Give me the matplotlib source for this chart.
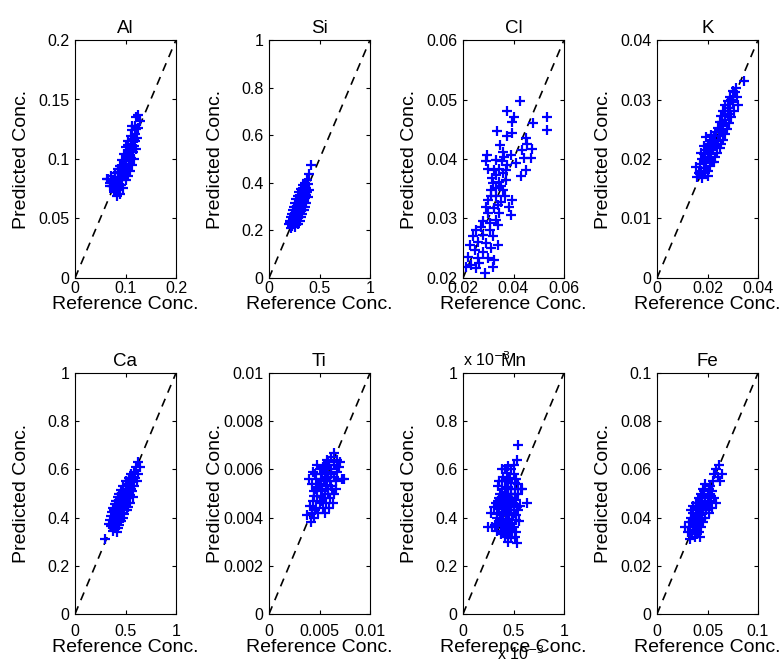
import matplotlib
matplotlib.use("Agg")
import matplotlib.pyplot as plt

plt.rcParams['font.family'] = ['Liberation Sans', 'DejaVu Sans']

# (reference, predicted) pairs
al = [(0.125, 0.137), (0.120, 0.135), (0.128, 0.132), (0.118, 0.128), (0.124, 0.126), (0.113, 0.124),
      (0.119, 0.121), (0.110, 0.119), (0.116, 0.117), (0.122, 0.118), (0.105, 0.115), (0.111, 0.113),
      (0.117, 0.111), (0.100, 0.110), (0.108, 0.108), (0.114, 0.106), (0.120, 0.108), (0.097, 0.104),
      (0.104, 0.103), (0.110, 0.101), (0.116, 0.100), (0.093, 0.099), (0.100, 0.098), (0.106, 0.096),
      (0.112, 0.095), (0.089, 0.094), (0.096, 0.093), (0.102, 0.092), (0.108, 0.090), (0.085, 0.089),
      (0.092, 0.088), (0.098, 0.087), (0.104, 0.086), (0.080, 0.085), (0.087, 0.084), (0.094, 0.083),
      (0.100, 0.082), (0.075, 0.082), (0.070, 0.080), (0.078, 0.079), (0.085, 0.078), (0.092, 0.078),
      (0.072, 0.086), (0.081, 0.075), (0.088, 0.074), (0.095, 0.076), (0.077, 0.072), (0.090, 0.071),
      (0.083, 0.069), (0.066, 0.083), (0.069, 0.077), (0.098, 0.093), (0.106, 0.105), (0.113, 0.128),
      (0.104, 0.112), (0.063, 0.083), (0.090, 0.082), (0.083, 0.080), (0.095, 0.088), (0.101, 0.095),
      (0.107, 0.100), (0.112, 0.110), (0.118, 0.115), (0.121, 0.125), (0.079, 0.088), (0.086, 0.092),
      (0.074, 0.077)]

si = [(0.42, 0.475), (0.40, 0.435), (0.38, 0.41), (0.36, 0.40), (0.39, 0.395), (0.34, 0.39), (0.37, 0.38),
      (0.32, 0.375), (0.35, 0.37), (0.40, 0.37), (0.30, 0.36), (0.33, 0.355), (0.37, 0.35), (0.29, 0.345),
      (0.32, 0.34), (0.36, 0.335), (0.39, 0.34), (0.27, 0.33), (0.31, 0.325), (0.34, 0.32), (0.37, 0.315),
      (0.26, 0.315), (0.29, 0.31), (0.33, 0.305), (0.36, 0.30), (0.25, 0.30), (0.28, 0.295), (0.32, 0.29),
      (0.35, 0.285), (0.24, 0.285), (0.27, 0.28), (0.30, 0.275), (0.33, 0.27), (0.23, 0.27), (0.26, 0.265),
      (0.29, 0.26), (0.32, 0.255), (0.22, 0.255), (0.25, 0.25), (0.28, 0.245), (0.31, 0.24), (0.21, 0.24),
      (0.24, 0.235), (0.27, 0.23), (0.20, 0.225), (0.23, 0.22), (0.26, 0.215), (0.29, 0.225), (0.22, 0.21),
      (0.35, 0.355), (0.38, 0.36), (0.30, 0.30), (0.27, 0.27), (0.34, 0.34), (0.31, 0.31), (0.28, 0.26),
      (0.25, 0.26), (0.35, 0.33), (0.24, 0.25), (0.21, 0.23), (0.33, 0.37)]

cl = [(0.0425, 0.0498), (0.0376, 0.0480), (0.0403, 0.0471), (0.0396, 0.0463), (0.0533, 0.0470),
      (0.0533, 0.0449), (0.0477, 0.0460), (0.0335, 0.0447), (0.0393, 0.0444), (0.0376, 0.0438),
      (0.0448, 0.0435), (0.0455, 0.0426), (0.0346, 0.0424), (0.0435, 0.0415), (0.0472, 0.0416),
      (0.0294, 0.0407), (0.0357, 0.0412), (0.0442, 0.0401), (0.0468, 0.0401), (0.0292, 0.0396),
      (0.0331, 0.0398), (0.0363, 0.0404), (0.0390, 0.0407), (0.0298, 0.0384), (0.0344, 0.0384),
      (0.0376, 0.0390), (0.0409, 0.0393), (0.0448, 0.0382), (0.0429, 0.0371), (0.0331, 0.0373),
      (0.0357, 0.0376), (0.0318, 0.0359), (0.0344, 0.0362), (0.0370, 0.0365), (0.0311, 0.0348),
      (0.0331, 0.0351), (0.0357, 0.0348), (0.0298, 0.0331), (0.0331, 0.0337), (0.0393, 0.0331),
      (0.0350, 0.0328), (0.0383, 0.0320), (0.0292, 0.0320), (0.0324, 0.0317), (0.0390, 0.0306),
      (0.0344, 0.0309), (0.0298, 0.0309), (0.0331, 0.0298), (0.0337, 0.0289), (0.0272, 0.0286),
      (0.0252, 0.0281), (0.0305, 0.0281), (0.0278, 0.0272), (0.0239, 0.0270), (0.0318, 0.0270),
      (0.0259, 0.0261), (0.0226, 0.0256), (0.0292, 0.0258), (0.0337, 0.0256), (0.0246, 0.0247),
      (0.0278, 0.0244), (0.0311, 0.0250), (0.0220, 0.0236), (0.0259, 0.0233), (0.0298, 0.0233),
      (0.0324, 0.0230), (0.0233, 0.0222), (0.0265, 0.0225), (0.0213, 0.0219), (0.0318, 0.0219),
      (0.0252, 0.0216), (0.0289, 0.0208), (0.0315, 0.0368), (0.0350, 0.0354), (0.0367, 0.0337),
      (0.0278, 0.0295), (0.0354, 0.0396), (0.0324, 0.0382), (0.0311, 0.0337), (0.0370, 0.0382),
      (0.0337, 0.0323), (0.0305, 0.0292)]

k = [(0.0345, 0.0331), (0.0312, 0.0320), (0.0300, 0.0315), (0.0315, 0.0305), (0.0290, 0.0305),
     (0.0300, 0.0295), (0.0280, 0.0298), (0.0320, 0.0290), (0.0270, 0.0290), (0.0290, 0.0285),
     (0.0305, 0.0280), (0.0262, 0.0280), (0.0280, 0.0275), (0.0295, 0.0270), (0.0255, 0.0272),
     (0.0270, 0.0265), (0.0285, 0.0260), (0.0248, 0.0262), (0.0262, 0.0255), (0.0278, 0.0250),
     (0.0240, 0.0252), (0.0255, 0.0245), (0.0270, 0.0242), (0.0232, 0.0245), (0.0248, 0.0238),
     (0.0262, 0.0232), (0.0225, 0.0238), (0.0240, 0.0230), (0.0255, 0.0225), (0.0212, 0.0240),
     (0.0195, 0.0237), (0.0218, 0.0228), (0.0232, 0.0222), (0.0248, 0.0218), (0.0205, 0.0222),
     (0.0220, 0.0215), (0.0238, 0.0210), (0.0195, 0.0215), (0.0210, 0.0208), (0.0228, 0.0203),
     (0.0185, 0.0208), (0.0200, 0.0200), (0.0218, 0.0195), (0.0178, 0.0200), (0.0192, 0.0193),
     (0.0210, 0.0188), (0.0170, 0.0192), (0.0185, 0.0185), (0.0202, 0.0180), (0.0155, 0.0187),
     (0.0175, 0.0180), (0.0190, 0.0176), (0.0160, 0.0170), (0.0180, 0.0168), (0.0200, 0.0172),
     (0.0168, 0.0176), (0.0225, 0.0225), (0.0212, 0.0218), (0.0202, 0.0210), (0.0190, 0.0203),
     (0.0230, 0.0232), (0.0245, 0.0248), (0.0258, 0.0262), (0.0268, 0.0272), (0.0280, 0.0285),
     (0.0295, 0.0300), (0.0310, 0.0312), (0.0208, 0.0230), (0.0200, 0.0225), (0.0188, 0.0222),
     (0.0175, 0.0210), (0.0215, 0.0198), (0.0225, 0.0195), (0.0185, 0.0195), (0.0170, 0.0175),
     (0.0195, 0.0185)]

ca = [(0.30, 0.31), (0.62, 0.63), (0.64, 0.61), (0.60, 0.61), (0.58, 0.59), (0.62, 0.58), (0.55, 0.58),
      (0.59, 0.565), (0.53, 0.565), (0.56, 0.55), (0.61, 0.55), (0.50, 0.55), (0.54, 0.535), (0.58, 0.53),
      (0.48, 0.53), (0.52, 0.52), (0.56, 0.51), (0.46, 0.515), (0.50, 0.505), (0.54, 0.495), (0.44, 0.50),
      (0.48, 0.49), (0.52, 0.48), (0.57, 0.485), (0.43, 0.485), (0.46, 0.475), (0.50, 0.465), (0.54, 0.46),
      (0.41, 0.47), (0.44, 0.46), (0.48, 0.45), (0.52, 0.445), (0.40, 0.455), (0.43, 0.445), (0.47, 0.435),
      (0.51, 0.43), (0.38, 0.44), (0.42, 0.43), (0.45, 0.42), (0.49, 0.415), (0.37, 0.425), (0.40, 0.415),
      (0.44, 0.405), (0.48, 0.40), (0.36, 0.405), (0.39, 0.395), (0.43, 0.39), (0.46, 0.385), (0.35, 0.39),
      (0.38, 0.38), (0.41, 0.375), (0.44, 0.37), (0.36, 0.365), (0.40, 0.36), (0.43, 0.355), (0.38, 0.345),
      (0.42, 0.34), (0.55, 0.52), (0.51, 0.54), (0.46, 0.50), (0.52, 0.50), (0.49, 0.475), (0.45, 0.45),
      (0.42, 0.445), (0.46, 0.42), (0.39, 0.43), (0.41, 0.39), (0.45, 0.395), (0.39, 0.37), (0.53, 0.55),
      (0.57, 0.56), (0.50, 0.52), (0.47, 0.46), (0.34, 0.375)]

ti = [(0.0064, 0.0067), (0.0061, 0.0065), (0.0067, 0.0064), (0.0058, 0.0063), (0.0064, 0.0062),
      (0.0070, 0.0063), (0.0055, 0.0061), (0.0061, 0.0060), (0.0067, 0.0059), (0.0050, 0.0060),
      (0.0044, 0.0059), (0.0052, 0.0058), (0.0058, 0.0057), (0.0064, 0.0057), (0.0040, 0.0056),
      (0.0047, 0.0056), (0.0054, 0.0055), (0.0060, 0.0055), (0.0066, 0.0055), (0.0072, 0.0056),
      (0.0043, 0.0054), (0.0050, 0.0053), (0.0056, 0.0053), (0.0062, 0.0052), (0.0045, 0.0051),
      (0.0052, 0.0051), (0.0058, 0.0050), (0.0064, 0.0050), (0.0048, 0.0049), (0.0054, 0.0048),
      (0.0060, 0.0048), (0.0044, 0.0047), (0.0050, 0.0046), (0.0056, 0.0046), (0.0063, 0.0046),
      (0.0047, 0.0044), (0.0053, 0.0044), (0.0059, 0.0044), (0.0043, 0.0042), (0.0049, 0.0042),
      (0.0055, 0.0042), (0.0038, 0.0041), (0.0045, 0.0040), (0.0042, 0.0038), (0.0057, 0.0064),
      (0.0048, 0.0062), (0.0066, 0.0052), (0.0051, 0.0056), (0.0057, 0.0059), (0.0046, 0.0058),
      (0.0053, 0.0061), (0.0059, 0.0062), (0.0055, 0.0057), (0.0049, 0.0054), (0.0061, 0.0058),
      (0.0047, 0.0052), (0.0057, 0.0055), (0.0051, 0.0049), (0.0058, 0.0052), (0.0045, 0.0049),
      (0.0055, 0.0050), (0.0061, 0.0053), (0.0052, 0.0047), (0.0046, 0.0043), (0.0041, 0.0045),
      (0.0069, 0.0061), (0.0074, 0.0056)]

# Mn in units of 1e-3
mn = [(0.54, 0.70), (0.53, 0.64), (0.50, 0.62), (0.45, 0.615), (0.42, 0.60), (0.48, 0.60), (0.44, 0.585),
      (0.50, 0.58), (0.40, 0.57), (0.46, 0.565), (0.52, 0.56), (0.36, 0.55), (0.42, 0.55), (0.48, 0.545),
      (0.54, 0.54), (0.35, 0.53), (0.39, 0.52), (0.45, 0.525), (0.51, 0.52), (0.57, 0.52), (0.37, 0.50),
      (0.42, 0.50), (0.48, 0.50), (0.54, 0.50), (0.36, 0.48), (0.40, 0.475), (0.46, 0.48), (0.52, 0.475),
      (0.63, 0.46), (0.33, 0.46), (0.38, 0.455), (0.44, 0.455), (0.50, 0.455), (0.56, 0.45), (0.31, 0.445),
      (0.36, 0.435), (0.42, 0.435), (0.48, 0.43), (0.54, 0.43), (0.28, 0.42), (0.34, 0.415), (0.40, 0.41),
      (0.46, 0.41), (0.52, 0.41), (0.37, 0.39), (0.43, 0.39), (0.49, 0.39), (0.55, 0.385), (0.25, 0.36),
      (0.32, 0.37), (0.38, 0.365), (0.44, 0.365), (0.50, 0.36), (0.34, 0.345), (0.40, 0.34), (0.46, 0.34),
      (0.52, 0.34), (0.42, 0.32), (0.48, 0.315), (0.45, 0.30), (0.53, 0.295), (0.29, 0.36), (0.58, 0.52),
      (0.39, 0.60), (0.39, 0.55), (0.45, 0.55), (0.51, 0.545), (0.43, 0.52), (0.48, 0.52), (0.40, 0.49),
      (0.45, 0.50), (0.51, 0.50), (0.43, 0.475), (0.49, 0.47), (0.35, 0.47), (0.41, 0.45), (0.47, 0.445),
      (0.53, 0.445), (0.39, 0.425), (0.45, 0.42), (0.50, 0.42), (0.34, 0.40), (0.40, 0.395), (0.46, 0.395),
      (0.52, 0.39), (0.35, 0.375), (0.41, 0.37), (0.47, 0.37), (0.43, 0.35), (0.49, 0.345), (0.38, 0.33),
      (0.45, 0.325), (0.51, 0.32), (0.47, 0.56), (0.43, 0.60)]

fe = [(0.061, 0.062), (0.058, 0.060), (0.064, 0.058), (0.060, 0.057), (0.056, 0.058), (0.062, 0.055),
      (0.055, 0.055), (0.052, 0.053), (0.048, 0.054), (0.054, 0.051), (0.046, 0.052), (0.050, 0.050),
      (0.044, 0.050), (0.056, 0.048), (0.048, 0.048), (0.042, 0.048), (0.052, 0.047), (0.045, 0.046),
      (0.039, 0.046), (0.058, 0.046), (0.049, 0.045), (0.054, 0.044), (0.042, 0.044), (0.036, 0.045),
      (0.046, 0.043), (0.051, 0.042), (0.039, 0.042), (0.034, 0.043), (0.043, 0.041), (0.048, 0.040),
      (0.037, 0.040), (0.041, 0.039), (0.046, 0.038), (0.035, 0.038), (0.039, 0.037), (0.044, 0.036),
      (0.033, 0.036), (0.028, 0.036), (0.037, 0.035), (0.042, 0.034), (0.031, 0.034), (0.035, 0.033),
      (0.040, 0.033), (0.033, 0.031), (0.038, 0.032), (0.053, 0.049), (0.047, 0.051), (0.045, 0.049),
      (0.050, 0.046), (0.041, 0.046), (0.047, 0.045), (0.044, 0.043), (0.040, 0.041), (0.045, 0.040),
      (0.036, 0.042), (0.042, 0.038), (0.038, 0.039), (0.034, 0.040), (0.040, 0.036), (0.036, 0.036),
      (0.051, 0.052), (0.049, 0.043), (0.044, 0.047), (0.032, 0.038), (0.043, 0.032)]

elements = ['Al', 'Si', 'Cl', 'K', 'Ca', 'Ti', 'Mn', 'Fe']
points = [al, si, cl, k, ca, ti, mn, fe]
limits = [(0, 0.2), (0, 1), (0.02, 0.06), (0, 0.04), (0, 1), (0, 0.01), (0, 1), (0, 0.1)]
xticks = [[0, 0.1, 0.2], [0, 0.5, 1], [0.02, 0.04, 0.06], [0, 0.02, 0.04],
          [0, 0.5, 1], [0, 0.005, 0.01], [0, 0.5, 1], [0, 0.05, 0.1]]
yticks = [[0, 0.05, 0.1, 0.15, 0.2], [0, 0.2, 0.4, 0.6, 0.8, 1], [0.02, 0.03, 0.04, 0.05, 0.06],
          [0, 0.01, 0.02, 0.03, 0.04], [0, 0.2, 0.4, 0.6, 0.8, 1], [0, 0.002, 0.004, 0.006, 0.008, 0.01],
          [0, 0.2, 0.4, 0.6, 0.8, 1], [0, 0.02, 0.04, 0.06, 0.08, 0.1]]

W, H = 782, 662
fig = plt.figure(figsize=(W / 100, H / 100), dpi=100)

col_left = [75, 269, 463, 657]
row_top = [40, 373]
row_h = [238, 241]
ax_w = 101
xpad = [2.5, 7.5]
xlab_y = [-0.112, -0.137]

for i, name in enumerate(elements):
    r, c = divmod(i, 4)
    ax = fig.add_axes([col_left[c] / W, 1 - (row_top[r] + row_h[r]) / H, ax_w / W, row_h[r] / H])
    ref, pred = zip(*points[i])
    lo, hi = limits[i]
    ax.plot([lo, hi], [lo, hi], '--', color='black', lw=1.2, dashes=(5, 4))
    ax.plot(ref, pred, '+', color=(0, 0, 1), markersize=7, markeredgewidth=1.6)
    ax.set_xlim(lo, hi)
    ax.set_ylim(lo, hi)
    ax.set_xticks(xticks[i])
    ax.set_yticks(yticks[i])
    ax.set_xticklabels(['%g' % v for v in xticks[i]])
    ax.set_yticklabels(['%g' % v for v in yticks[i]])
    ax.tick_params(direction='in', top=True, right=True, length=3, width=0.8, labelsize=11.5, pad=4)
    ax.tick_params(axis='x', pad=xpad[r])
    for s in ax.spines.values():
        s.set_linewidth(0.8)
    ax.set_xlabel('Reference Conc.', fontsize=14)
    ax.set_ylabel('Predicted Conc.', fontsize=14)
    ax.xaxis.label.set_va('center')
    ax.xaxis.set_label_coords(0.5, xlab_y[r])
    ax.yaxis.set_label_coords(-0.45, 0.5)
    if name == 'Mn':
        ax.text(0.0, 1.03, 'x 10$^{-3}$', transform=ax.transAxes, fontsize=11.5, ha='left', va='baseline')
        ax.text(0.34, -0.19, 'x 10$^{-3}$', transform=ax.transAxes, fontsize=11.5, ha='left', va='baseline')
    ax.set_title(name, fontsize=13.5, pad=5)

fig.savefig('out.png', dpi=100)
